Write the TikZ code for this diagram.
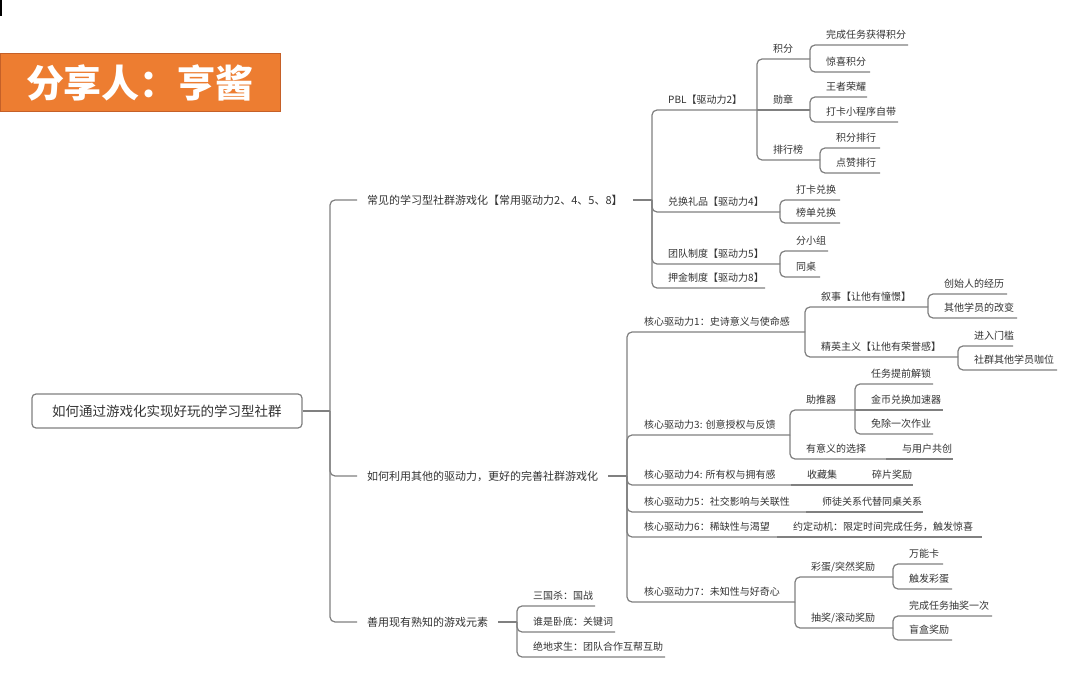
\documentclass[tikz,border=0pt]{standalone}
\usepackage{fontspec}
\setmainfont{Noto Sans CJK SC}
\definecolor{lineg}{RGB}{128,128,128}
\definecolor{txt}{RGB}{51,51,51}
\definecolor{orangeA}{RGB}{237,125,49}
\definecolor{orangeB}{RGB}{197,96,40}
\tikzset{
 conn/.style={draw=lineg, line width=1.2pt, rounded corners=5pt},
 lbl/.style={anchor=west, inner sep=0pt, text=txt, font=\fontsize{10}{12}\selectfont},
 lvlone/.style={anchor=west, inner xsep=10pt, inner ysep=0pt, text=txt, font=\fontsize{11}{13}\selectfont},
 rootbox/.style={draw=lineg, line width=1.2pt, rounded corners=4pt, minimum width=270pt, minimum height=34pt, text=txt, font=\fontsize{13.5}{16}\selectfont, inner sep=0pt},
 titlebox/.style={fill=orangeA, draw=orangeB, line width=1pt, minimum width=280pt, minimum height=58pt, text=white, font=\fontsize{38}{40}\selectfont\bfseries, inner sep=0pt}
}
\newcommand\mmElbow[6]{%
  \coordinate (#1-e) at (#5,#4);
  \node[lbl] (#1) at (#3,#4-10) {#6};
  \draw[conn] (#2) |- (#1-e);}
\newcommand\mmLine[6]{%
  \coordinate (#1-e) at (#5,#4);
  \node[lbl] (#1) at (#3,#4-10) {#6};
  \draw[conn] (#2) -- (#1-e);}
\begin{document}
\begin{tikzpicture}[x=1pt,y=-1pt]
\useasboundingbox (0,0) rectangle (1080,679);
\fill[white] (0,0) rectangle (1080,679);
\draw[black, line width=1.5pt] (1,0) -- (1,16);
\node[titlebox] (title) at (140,83) {分享人：亨酱};
\node[rootbox] (root) at (167,411) {如何通过游戏化实现好玩的学习型社群};
\coordinate (rootj) at (330,411);
\draw[conn] (root.east) -- (rootj);
% level one
\node[lvlone] (A) at (357,200) {常见的学习型社群游戏化【常用驱动力2、4、5、8】};
\node[lvlone] (B) at (357,476) {如何利用其他的驱动力，更好的完善社群游戏化};
\node[lvlone] (C) at (357,622) {善用现有熟知的游戏元素};
\draw[conn] (rootj) |- (A.west);
\draw[conn] (rootj) |- (B.west);
\draw[conn] (rootj) |- (C.west);
\coordinate (Aj) at (652,200);
\coordinate (Bj) at (627,476);
\coordinate (Cj) at (517,622);
\draw[conn] (A.east) -- (Aj);
\draw[conn] (B.east) -- (Bj);
\draw[conn] (C.east) -- (Cj);
% branch A
\mmElbow{pbl}{Aj}{668}{110}{757}{PBL【驱动力2】}
\mmElbow{dh}{Aj}{668}{212}{780}{兑换礼品【驱动力4】}
\mmElbow{td}{Aj}{668}{264}{780}{团队制度【驱动力5】}
\mmElbow{yj}{Aj}{668}{288}{765}{押金制度【驱动力8】}
\mmElbow{jf}{pbl-e}{773}{59}{810}{积分}
\mmLine{xz}{pbl-e}{773}{110}{810}{勋章}
\mmElbow{phb}{pbl-e}{773}{160}{820}{排行榜}
\mmElbow{wc}{jf-e}{826}{45}{908}{完成任务获得积分}
\mmElbow{jx}{jf-e}{826}{72}{870}{惊喜积分}
\mmElbow{wz}{xz-e}{826}{97}{867}{王者荣耀}
\mmElbow{dk}{xz-e}{826}{122}{898}{打卡小程序自带}
\mmElbow{jfph}{phb-e}{836}{148}{880}{积分排行}
\mmElbow{dzph}{phb-e}{836}{173}{880}{点赞排行}
\mmElbow{dkdh}{dh-e}{796}{200}{840}{打卡兑换}
\mmElbow{bddh}{dh-e}{796}{223}{840}{榜单兑换}
\mmElbow{fxz}{td-e}{796}{251}{828}{分小组}
\mmElbow{tz}{td-e}{796}{277}{820}{同桌}
% branch B
\mmElbow{cda}{Bj}{644}{332}{805}{核心驱动力1：史诗意义与使命感}
\mmElbow{cdc}{Bj}{644}{435}{790}{核心驱动力3: 创意授权与反馈}
\mmElbow{cdd}{Bj}{644}{485}{791}{核心驱动力4: 所有权与拥有感}
\mmElbow{cde}{Bj}{644}{512}{806}{核心驱动力5：社交影响与关联性}
\mmElbow{cdf}{Bj}{644}{537}{777}{核心驱动力6：稀缺性与渴望}
\mmElbow{cdg}{Bj}{644}{602}{795}{核心驱动力7：未知性与好奇心}
\mmElbow{xs}{cda-e}{821}{307}{928}{叙事【让他有憧憬】}
\mmElbow{jy}{cda-e}{821}{357}{958}{精英主义【让他有荣誉感】}
\mmElbow{cs}{xs-e}{944}{294}{1007}{创始人的经历}
\mmElbow{qt}{xs-e}{944}{318}{1017}{其他学员的改变}
\mmElbow{jr}{jy-e}{974}{346}{1013}{进入门槛}
\mmElbow{sq}{jy-e}{974}{370}{1057}{社群其他学员咖位}
\mmElbow{ztq}{cdc-e}{806}{410}{855}{助推器}
\mmElbow{yyy}{cdc-e}{806}{459}{886}{有意义的选择}
\mmElbow{rw}{ztq-e}{871}{384}{933}{任务提前解锁}
\mmLine{jb}{ztq-e}{871}{410}{943}{金币兑换加速器}
\mmElbow{mc}{ztq-e}{871}{434}{933}{免除一次作业}
\mmLine{yh}{yyy-e}{902}{459}{953}{与用户共创}
\mmLine{scj}{cdd-e}{807}{485}{856}{收藏集}
\mmLine{sp}{scj-e}{872}{485}{913}{碎片奖励}
\mmLine{st}{cde-e}{822}{512}{923}{师徒关系代替同桌关系}
\mmLine{yd}{cdf-e}{793}{537}{982}{约定动机：限定时间完成任务，触发惊喜}
\mmElbow{cd}{cdg-e}{811}{577}{893}{彩蛋/突然奖励}
\mmElbow{cj}{cdg-e}{811}{628}{893}{抽奖/滚动奖励}
\mmElbow{wn}{cd-e}{909}{564}{943}{万能卡}
\mmElbow{cf}{cd-e}{909}{589}{952}{触发彩蛋}
\mmElbow{wcj}{cj-e}{909}{616}{992}{完成任务抽奖一次}
\mmElbow{mh}{cj-e}{909}{640}{952}{盲盒奖励}
% branch C
\mmElbow{sg}{Cj}{533}{606}{595}{三国杀：国战}
\mmElbow{ws}{Cj}{533}{632}{615}{谁是卧底：关键词}
\mmElbow{jd}{Cj}{533}{657}{665}{绝地求生：团队合作互帮互助}
\end{tikzpicture}
\end{document}
